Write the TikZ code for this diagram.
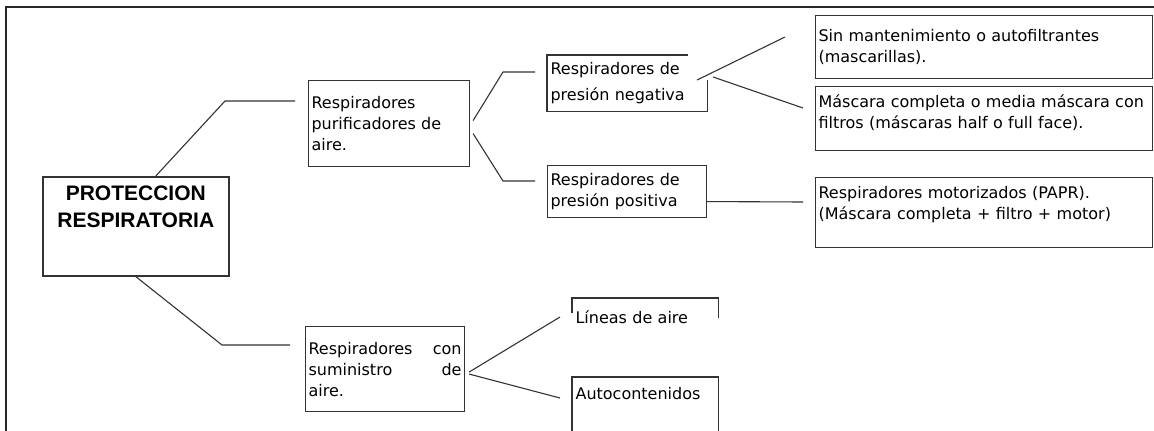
\documentclass[tikz,border=0pt]{standalone}
\usepackage{fontspec}
\setmainfont{DejaVu Sans}
\newfontfamily\titlefont{Liberation Sans}
\usetikzlibrary{positioning}

\begin{document}
\begin{tikzpicture}[
    x=1pt, y=-1pt,
    font=\fontsize{16pt}{21pt}\selectfont,
    box/.style={rectangle, draw=black!80, line width=1.1pt,
                anchor=north west, align=left, inner xsep=3pt,
                inner ysep=0pt, text=black},
    openbox/.style={box, draw=none},
    rootbox/.style={box, line width=1.6pt, align=center,
                    font=\titlefont\bfseries\fontsize{21pt}{27pt}\selectfont},
    edge/.style={draw=black!80, line width=1.1pt},
    frame/.style={draw=black!85, line width=1.8pt},
]
    \useasboundingbox (0,0) rectangle (1154,431);

    % outer frame (open at the bottom)
    \draw[frame] (6,431) -- (6,7) -- (1154,7);

    % Root
    \node[rootbox, text width=180pt, minimum height=99pt] (prot) at (42,176)
        {PROTECCION\\RESPIRATORIA\\[12pt]\mbox{}};

    % Level 1
    \node[box, text width=155pt, minimum height=86pt] (pur) at (308,80)
        {Respiradores\\purificadores de\\aire.};
    \node[box, text width=153pt, minimum height=85pt] (sum) at (305,326)
        {Respiradores\hfill con\\suministro\hfill de\\aire.};

    % Level 2
    \node[openbox, text width=153pt, minimum height=55pt] (neg) at (547,55)
        {Respiradores de\\[5pt]presión negativa};
    \node[box, text width=153pt, minimum height=52pt] (pos) at (547,165)
        {Respiradores de\\presión positiva};
    \node[openbox, text width=139pt, minimum height=38pt] (lin) at (572,298)
        {Líneas de aire};
    \node[openbox, text width=139pt, minimum height=32pt] (aut) at (572,377)
        {Autocontenidos};

    % Level 3
    \node[box, text width=331pt, minimum height=63pt] (sin) at (815,15)
        {Sin mantenimiento o autofiltrantes\\(mascarillas).};
    \node[box, text width=331pt, minimum height=64pt] (mas) at (815,86)
        {Máscara completa o media máscara con\\filtros (máscaras half o full face).\\[-7pt]\mbox{}};
    \node[box, text width=331pt, minimum height=70pt] (mot) at (815,177)
        {Respiradores motorizados (PAPR).\\(Máscara completa + filtro + motor)\\[-2pt]\mbox{}};

    % partial outlines
    \draw[edge] ([yshift=-25pt]neg.north east) -- (neg.south east)
        -- (neg.south west) -- (neg.north west) -- ([xshift=-19pt]neg.north east);
    \draw[edge] ([yshift=-15pt]lin.north west) -- (lin.north west)
        -- (lin.north east) -- ([yshift=-20pt]lin.north east);
    \draw[edge] ([yshift=-60pt]aut.north west) -- (aut.north west)
        -- (aut.north east) -- ([yshift=-60pt]aut.north east);

    % bends and free ends
    \coordinate (k1) at (225,101);
    \coordinate (t1) at (295,101);
    \coordinate (k2) at (222,345);
    \coordinate (t2) at (290,345);
    \coordinate (k3) at (503,72);
    \coordinate (t3) at (535,72);
    \coordinate (k4) at (503,181);
    \coordinate (t4) at (535,181);
    \coordinate (t5) at (785,37);
    \coordinate (t6) at (803,108);
    \coordinate (t7) at (803,202);
    \coordinate (t8) at (560,317);
    \coordinate (t9) at (560,398);

    % connectors
    \draw[edge] ([xshift=20pt]prot.north) -- (k1) -- (t1);
    \draw[edge] (prot.south) -- (k2) -- (t2);
    \draw[edge] ([shift={(3pt,3pt)}]pur.east) -- (k3) -- (t3);
    \draw[edge] ([shift={(3pt,-10pt)}]pur.east) -- (k4) -- (t4);
    \draw[edge] ([shift={(-10pt,-25pt)}]neg.north east) -- (t5);
    \draw[edge] ([shift={(6pt,-22pt)}]neg.north east) -- (t6);
    \draw[edge] ([yshift=-10pt]pos.east) -- (t7);
    \draw[edge] ([shift={(4pt,-3pt)}]sum.east) -- (t8);
    \draw[edge] ([shift={(4pt,-5pt)}]sum.east) -- (t9);
\end{tikzpicture}
\end{document}
